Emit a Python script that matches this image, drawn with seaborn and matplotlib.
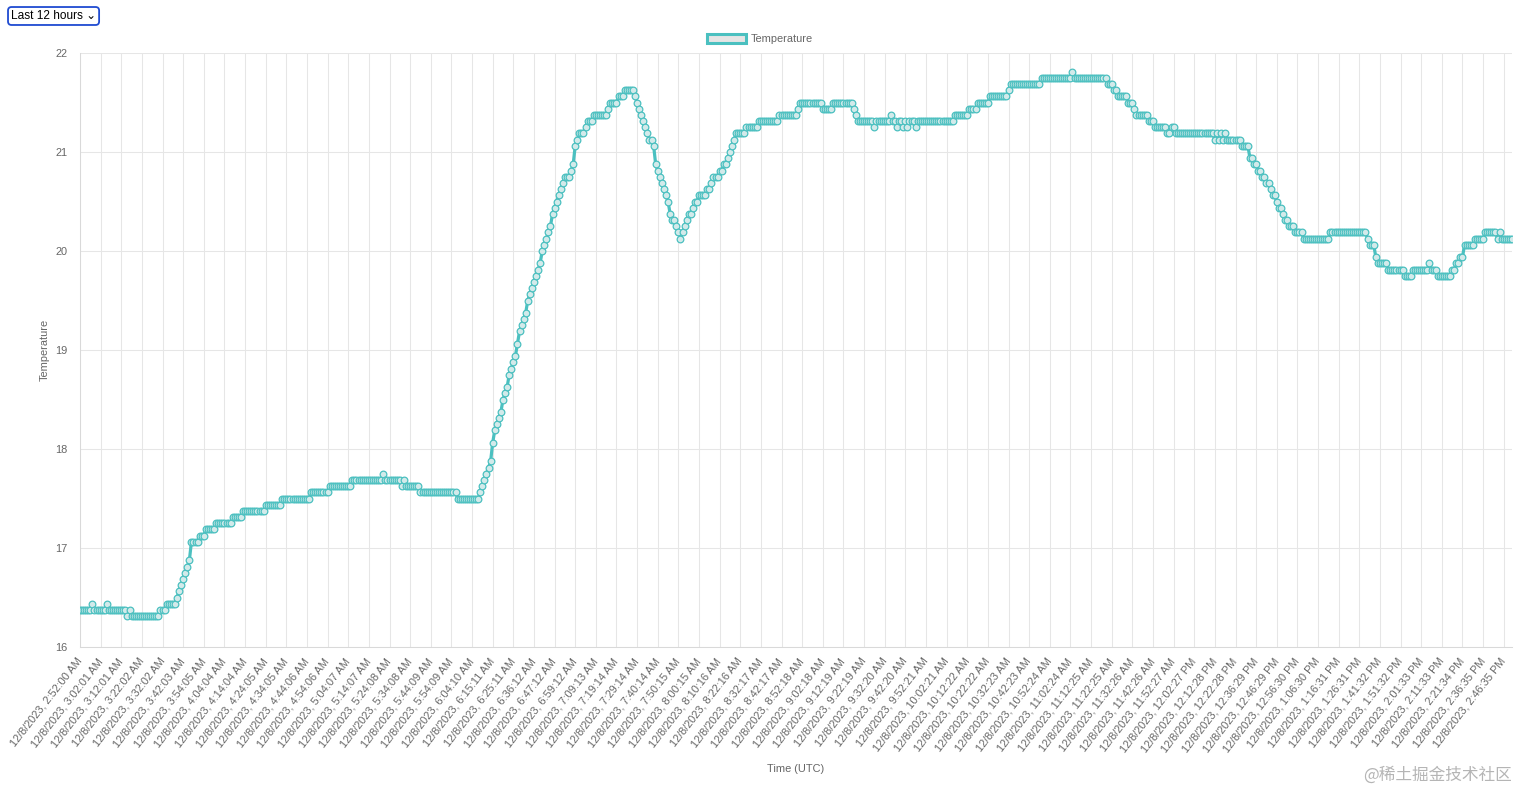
import numpy as np
import pandas as pd
import matplotlib
matplotlib.use("Agg")
import matplotlib.pyplot as plt
import seaborn as sns
from matplotlib.patches import Patch

# ---------------- data ----------------
# readings are stored as runs: value and how many consecutive samples hold it
seg1_temp = [16.375, 16.4375, 16.375, 16.4375, 16.375, 16.3125, 16.375, 16.3125, 16.375, 16.4375,
             16.5, 16.5625, 16.625, 16.6875, 16.75, 16.8125, 16.875, 17.0625, 17.125, 17.1875,
             17.25, 17.3125, 17.375, 17.4375]
seg1_len = [6, 1, 6, 1, 9, 1, 1, 14, 3, 5,
            1, 1, 1, 1, 1, 1, 1, 4, 3, 5,
            8, 5, 11, 8]

seg2_temp = [17.5, 17.5625, 17.625, 17.6875, 17.75, 17.6875, 17.625, 17.6875, 17.625, 17.5625, 17.5]
seg2_len = [14, 9, 11, 15, 1, 8, 1, 1, 7, 18, 11]

# morning rise, peak and dip: one value per sample
seg3_temp = [17.5625, 17.625, 17.6875, 17.75, 17.8125, 17.875, 18.0625, 18.1875, 18.25, 18.3125,
             18.375, 18.5, 18.5625, 18.625, 18.75, 18.8125, 18.875, 18.9375, 19.0625, 19.1875,
             19.25, 19.3125, 19.375, 19.5, 19.5625, 19.625, 19.6875, 19.75, 19.8125, 19.875,
             20.0, 20.0625, 20.125, 20.1875, 20.25, 20.375, 20.4375, 20.5, 20.5625, 20.625,
             20.6875, 20.75, 20.75, 20.75, 20.8125, 20.875, 21.0625, 21.125, 21.1875, 21.1875,
             21.1875, 21.25, 21.3125, 21.3125, 21.3125, 21.375, 21.375, 21.375, 21.375, 21.375,
             21.375, 21.375, 21.4375, 21.5, 21.5, 21.5, 21.5, 21.5625, 21.5625, 21.5625,
             21.625, 21.625, 21.625, 21.625, 21.625,
             21.5625, 21.5, 21.4375, 21.375, 21.3125, 21.25, 21.1875, 21.125, 21.125, 21.0625,
             20.875, 20.8125, 20.75, 20.6875, 20.625, 20.5625, 20.5, 20.375, 20.3125, 20.3125,
             20.25, 20.1875, 20.125]

seg4_temp = [20.1875, 20.25, 20.3125, 20.375, 20.4375, 20.5, 20.5625, 20.625, 20.6875, 20.75,
             20.8125, 20.875, 20.9375, 21.0, 21.0625, 21.125, 21.1875, 21.25, 21.3125, 21.375,
             21.4375, 21.5, 21.4375, 21.5, 21.4375, 21.375, 21.3125, 21.25, 21.3125, 21.375,
             21.3125, 21.25, 21.3125, 21.25, 21.3125, 21.25, 21.3125, 21.25, 21.3125]
seg4_len = [1, 1, 1, 2, 1, 2, 4, 2, 1, 3,
            2, 2, 1, 1, 1, 1, 5, 6, 10, 9,
            1, 11, 5, 10, 1, 1, 8, 1, 7, 1,
            2, 1, 2, 1, 1, 1, 3, 1, 18]

seg5_temp = [21.375, 21.4375, 21.5, 21.5625, 21.625, 21.6875, 21.75, 21.8125, 21.75, 21.6875,
             21.625, 21.5625, 21.5, 21.4375, 21.375, 21.3125, 21.25, 21.1875, 21.25, 21.1875,
             21.125, 21.1875, 21.125, 21.1875, 21.125, 21.1875, 21.125, 21.0625, 20.9375, 20.875,
             20.8125, 20.75, 20.6875, 20.625, 20.5625, 20.5, 20.4375, 20.375, 20.3125, 20.25,
             20.1875, 20.125, 20.1875, 20.125, 20.0625, 19.9375, 19.875, 19.8125, 19.75, 19.8125,
             19.875, 19.8125, 19.75, 19.8125, 19.875, 19.9375, 20.0625, 20.125, 20.1875, 20.125,
             20.1875, 20.125]
seg5_len = [7, 4, 6, 9, 1, 15, 15, 1, 16, 3,
            2, 5, 3, 1, 6, 3, 6, 2, 2, 19,
            1, 1, 1, 1, 1, 1, 7, 4, 2, 2,
            2, 2, 2, 1, 2, 1, 2, 1, 2, 3,
            4, 13, 18, 1, 3, 1, 5, 8, 4, 8,
            1, 3, 7, 2, 2, 2, 5, 5, 6, 1,
            1, 6]

# every 10th sample carries a visible label
tick_date = "12/8/2023"
tick_times = ["2:52:00 AM", "3:02:01 AM", "3:12:01 AM", "3:22:02 AM", "3:32:02 AM", "3:42:03 AM",
              "3:54:05 AM", "4:04:04 AM", "4:14:04 AM", "4:24:05 AM", "4:34:05 AM", "4:44:06 AM",
              "4:54:06 AM", "5:04:07 AM", "5:14:07 AM", "5:24:08 AM", "5:34:08 AM", "5:44:09 AM",
              "5:54:09 AM", "6:04:10 AM", "6:15:11 AM", "6:25:11 AM", "6:36:12 AM", "6:47:12 AM",
              "6:59:12 AM", "7:09:13 AM", "7:19:14 AM", "7:29:14 AM", "7:40:14 AM", "7:50:15 AM",
              "8:00:15 AM", "8:10:16 AM", "8:22:16 AM", "8:32:17 AM", "8:42:17 AM", "8:52:18 AM",
              "9:02:18 AM", "9:12:19 AM", "9:22:19 AM", "9:32:20 AM", "9:42:20 AM", "9:52:21 AM",
              "10:02:21 AM", "10:12:22 AM", "10:22:22 AM", "10:32:23 AM", "10:42:23 AM", "10:52:24 AM",
              "11:02:24 AM", "11:12:25 AM", "11:22:25 AM", "11:32:26 AM", "11:42:26 AM", "11:52:27 AM",
              "12:02:27 PM", "12:12:28 PM", "12:22:28 PM", "12:36:29 PM", "12:46:29 PM", "12:56:30 PM",
              "1:06:30 PM", "1:16:31 PM", "1:26:31 PM", "1:41:32 PM", "1:51:32 PM", "2:01:33 PM",
              "2:11:33 PM", "2:21:34 PM", "2:36:35 PM", "2:46:35 PM"]
y_ticks = [16, 17, 18, 19, 20, 21, 22]

# ---------------- build table ----------------
temps = np.concatenate([
    np.repeat(seg1_temp, seg1_len),
    np.repeat(seg2_temp, seg2_len),
    np.array(seg3_temp),
    np.repeat(seg4_temp, seg4_len),
    np.repeat(seg5_temp, seg5_len),
])
df = pd.DataFrame({"sample": np.arange(len(temps)), "Temperature": temps})
tick_labels = [f"{tick_date}, {t}" for t in tick_times]
tick_pos = [10 * i for i in range(len(tick_labels))]

# ---------------- style ----------------
sns.set_theme(style="white")
plt.rcParams["font.family"] = ["Liberation Sans", "DejaVu Sans"]
TXT = "#666666"
GRID = "#e6e6e6"
AXISC = "#d9d9d9"
TEAL = (75 / 255, 192 / 255, 192 / 255)
FS = 7.9

W, H = 1520, 791
fig = plt.figure(figsize=(W / 100, H / 100), dpi=100)
fig.patch.set_facecolor("white")
L, R, T, B = 80, 1512, 53, 647
ax = fig.add_axes([L / W, 1 - B / H, (R - L) / W, (B - T) / H])
ax.set_facecolor("white")

sns.lineplot(data=df, x="sample", y="Temperature", ax=ax, color=TEAL, linewidth=2.3,
             marker="o", markersize=4.8, markerfacecolor="#d3eaea",
             markeredgecolor=TEAL, markeredgewidth=0.9, legend=False, zorder=3)

ax.set_xlim(0, len(temps) - 1)
ax.set_ylim(16, 22)
ax.set_yticks(y_ticks)
ax.set_yticklabels([str(v) for v in y_ticks])
ax.set_xticks(tick_pos)
ax.set_xticklabels(tick_labels, rotation=52, ha="right", va="center", rotation_mode="anchor")

ax.grid(True, color=GRID, linewidth=0.75, alpha=1.0)
ax.set_axisbelow(True)
for s in ax.spines.values():
    s.set_visible(False)
ax.spines["left"].set_visible(True)
ax.spines["bottom"].set_visible(True)
ax.spines["left"].set_color(AXISC)
ax.spines["bottom"].set_color(AXISC)
ax.spines["left"].set_linewidth(0.75)
ax.spines["bottom"].set_linewidth(0.75)

ax.tick_params(axis="both", which="both", length=5.8, width=0.75, color=GRID,
               labelsize=FS, labelcolor=TXT)
ax.tick_params(axis="x", pad=3)
ax.tick_params(axis="y", pad=3)

ax.set_xlabel("Time (UTC)", fontsize=FS, color=TXT, va="center")
ax.set_ylabel("Temperature", fontsize=FS, color=TXT, va="center")
ax.xaxis.set_label_coords((796 - L) / (R - L), (B - 769) / (B - T))
ax.yaxis.set_label_coords((45 - L) / (R - L), 0.5)

handle = Patch(facecolor=(0, 0, 0, 0.1), edgecolor=TEAL, linewidth=2.2, label="Temperature")
fig.legend(handles=[handle], loc="center", bbox_to_anchor=(0.5, 1 - 39 / H), frameon=False,
           fontsize=FS, labelcolor=TXT, handlelength=3.6, handleheight=1.0, handletextpad=0.45,
           borderaxespad=0, borderpad=0)

# page controls around the chart
fig.text(11 / W, 1 - 16 / H, "Last 12 hours \u2304", fontsize=8.6, color="black",
         ha="left", va="center", family=["Liberation Sans", "DejaVu Sans"],
         bbox=dict(boxstyle="round,pad=0.25,rounding_size=0.3", fc="white", ec="#1f4bd1", lw=1.3))
fig.text(1512 / W, 1 - 775 / H, "@稀土掘金技术社区", fontsize=12, color="#b5b5b5",
         ha="right", va="center", family=["Noto Sans CJK SC", "DejaVu Sans"])

fig.savefig("out.png", dpi=100, facecolor="white")
